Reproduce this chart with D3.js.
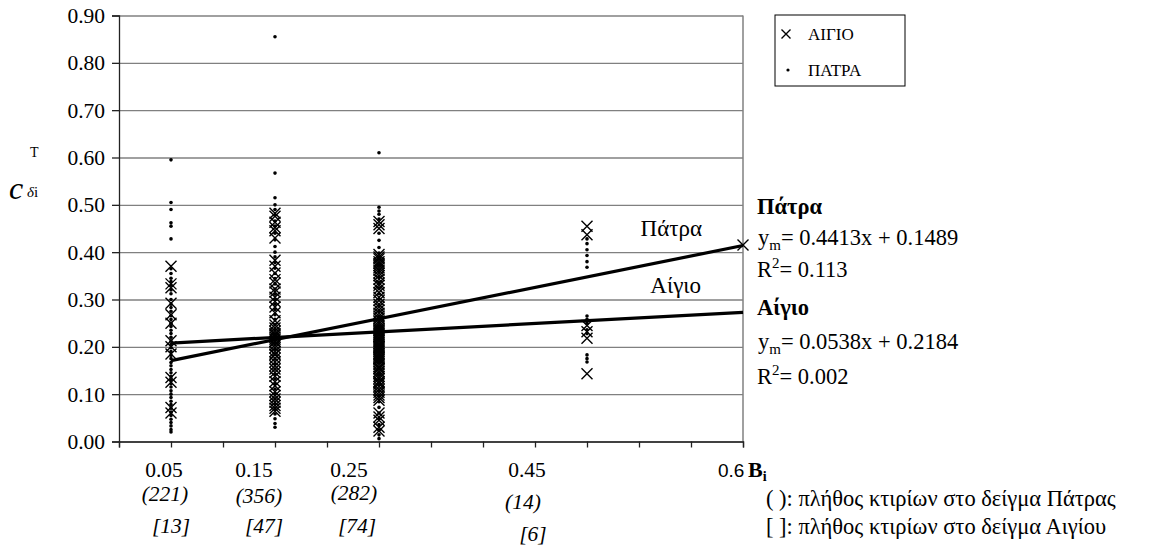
<!DOCTYPE html>
<html>
<head>
<meta charset="utf-8">
<script src="https://d3js.org/d3.v7.min.js"></script>
<style>
  body { margin: 0; background: #fff; }
  svg { display: block; }
  text { font-family: "Liberation Serif", "Times New Roman", serif; fill: #000; }
</style>
</head>
<body>
<div id="chart"></div>
<script>
// ── data ─────────────────────────────────────────────────────────
const bins = [0.05, 0.15, 0.25, 0.45];
const binLabels = ["0.05", "0.15", "0.25", "0.45"];
const patraCounts = ["(221)", "(356)", "(282)", "(14)"];
const aigioCounts = ["[13]", "[47]", "[74]", "[6]"];
const yTicks = [0, 0.1, 0.2, 0.3, 0.4, 0.5, 0.6, 0.7, 0.8, 0.9];
const xTicks = [0, 0.05, 0.1, 0.15, 0.2, 0.25, 0.3, 0.35, 0.4, 0.45, 0.5, 0.55, 0.6];

// Αίγιο (×) values per bin
const aigio005 = [0.37, 0.333, 0.325, 0.292, 0.268, 0.25, 0.213, 0.2, 0.185, 0.135, 0.125, 0.072, 0.06];
const aigio015 = [0.482, 0.476, 0.463, 0.452, 0.445, 0.43, 0.383, 0.37, 0.356, 0.342, 0.335, 0.322,
  0.316, 0.305, 0.296, 0.284, 0.272, 0.255, 0.246, 0.24, 0.233, 0.228, 0.221, 0.216, 0.21, 0.204,
  0.198, 0.19, 0.183, 0.176, 0.168, 0.16, 0.153, 0.146, 0.138, 0.126, 0.118, 0.105, 0.097, 0.09,
  0.083, 0.076, 0.07, 0.064, 0.225, 0.185, 0.212];
const aigio025 = [0.465, 0.458, 0.45, 0.395, 0.39, 0.386, 0.38, 0.376, 0.372, 0.367, 0.362, 0.356,
  0.35, 0.343, 0.335, 0.33, 0.322, 0.315, 0.305, 0.298, 0.29, 0.284, 0.278, 0.271, 0.265, 0.26,
  0.254, 0.249, 0.244, 0.24, 0.236, 0.231, 0.227, 0.222, 0.218, 0.214, 0.21, 0.206, 0.202, 0.198,
  0.194, 0.19, 0.186, 0.181, 0.177, 0.172, 0.168, 0.163, 0.158, 0.153, 0.148, 0.143, 0.138, 0.133,
  0.127, 0.122, 0.116, 0.11, 0.104, 0.098, 0.093, 0.087, 0.06, 0.052, 0.045, 0.03, 0.022, 0.235,
  0.225, 0.2, 0.185, 0.175, 0.155, 0.125];
const aigio045 = [0.455, 0.437, 0.245, 0.232, 0.218, 0.143];
const aigioEnd = [0.6, 0.415];   // lone × at the end of the Πάτρα line

// Πάτρα (·) values per bin
const patra005 = [0.595, 0.505, 0.49, 0.462, 0.455, 0.428, 0.365, 0.355, 0.345, 0.338, 0.33, 0.32,
  0.312, 0.3, 0.29, 0.283, 0.275, 0.266, 0.258, 0.25, 0.243, 0.235, 0.228, 0.22, 0.212, 0.205,
  0.198, 0.19, 0.182, 0.175, 0.167, 0.16, 0.152, 0.145, 0.137, 0.13, 0.122, 0.115, 0.107, 0.1,
  0.093, 0.085, 0.078, 0.07, 0.062, 0.055, 0.047, 0.04, 0.033, 0.025, 0.02];
const patra015 = [0.855, 0.567, 0.515, 0.5, 0.49, 0.478, 0.466, 0.455, 0.44, 0.426, 0.412, 0.4,
  0.39, 0.378, 0.366, 0.355, 0.344, 0.333, 0.322, 0.311, 0.3, 0.29, 0.279, 0.268, 0.258, 0.247,
  0.237, 0.226, 0.216, 0.205, 0.195, 0.184, 0.174, 0.163, 0.153, 0.142, 0.132, 0.121, 0.111, 0.1,
  0.09, 0.079, 0.069, 0.058, 0.048, 0.038, 0.03];
const patra025 = [0.61, 0.495, 0.487, 0.48, 0.47, 0.44, 0.425, 0.41, 0.398, 0.385, 0.373, 0.36,
  0.348, 0.336, 0.324, 0.312, 0.3, 0.288, 0.276, 0.264, 0.252, 0.24, 0.228, 0.216, 0.204, 0.192,
  0.18, 0.168, 0.156, 0.144, 0.132, 0.12, 0.108, 0.096, 0.084, 0.072, 0.06, 0.048, 0.036, 0.024,
  0.014, 0.006];
const patra045 = [0.428, 0.418, 0.405, 0.393, 0.38, 0.368, 0.265, 0.258, 0.25, 0.236, 0.228, 0.183,
  0.175, 0.168];

// fitted lines, end points as drawn
const patraLine = [[0.05, 0.171], [0.6, 0.414]];
const aigioLine = [[0.05, 0.208], [0.6, 0.273]];

// ── chart ────────────────────────────────────────────────────────
const W = 1152, H = 549;
const svg = d3.select("#chart").append("svg").attr("width", W).attr("height", H);

const x = d3.scaleLinear().domain([0, 0.6]).range([119, 743]);
const y = d3.scaleLinear().domain([0, 0.9]).range([441.5, 15.5]);

// gridlines
svg.append("g").attr("transform", `translate(${x(0)},0)`)
  .call(d3.axisLeft(y).tickValues(yTicks).tickSize(-(x(0.6) - x(0))).tickFormat(""))
  .call(g => g.select(".domain").remove())
  .selectAll("line").attr("stroke", "#808080").attr("stroke-width", 1.3);

// right border
svg.append("line").attr("x1", x(0.6)).attr("x2", x(0.6)).attr("y1", y(0.9)).attr("y2", y(0))
  .attr("stroke", "#808080").attr("stroke-width", 1.5);

// y axis
const yAx = svg.append("g").attr("transform", `translate(${x(0)},0)`)
  .call(d3.axisLeft(y).tickValues(yTicks).tickSize(7).tickPadding(7).tickFormat(d3.format(".2f")));
yAx.selectAll("line, path").attr("stroke", "#222").attr("stroke-width", 1.3);
yAx.selectAll("text").style("font-family", "Liberation Serif").style("font-size", "21.5px");

// x axis
const xAx = svg.append("g").attr("transform", `translate(0,${y(0)})`)
  .call(d3.axisBottom(x).tickValues(xTicks).tickSize(6).tickFormat(""));
xAx.selectAll("line, path").attr("stroke", "#222").attr("stroke-width", 1.3);

// points
const patraPts = [];
[patra005, patra015, patra025, patra045].forEach((arr, i) => arr.forEach(v => patraPts.push([bins[i], v])));
const aigioPts = [];
[aigio005, aigio015, aigio025, aigio045].forEach((arr, i) => arr.forEach(v => aigioPts.push([bins[i], v])));
aigioPts.push(aigioEnd);

const xMark = "M-5.5,-5.5L5.5,5.5M-5.5,5.5L5.5,-5.5";

svg.append("g").selectAll("path").data(aigioPts).join("path")
  .attr("transform", d => `translate(${x(d[0])},${y(d[1])})`)
  .attr("d", xMark).attr("stroke", "#000").attr("stroke-width", 1.4).attr("fill", "none");

svg.append("g").selectAll("circle").data(patraPts).join("circle")
  .attr("cx", d => x(d[0])).attr("cy", d => y(d[1])).attr("r", 1.8).attr("fill", "#000");

// fitted lines
const line = d3.line().x(d => x(d[0])).y(d => y(d[1]));
[patraLine, aigioLine].forEach(l => {
  svg.append("path").datum(l).attr("d", line)
    .attr("stroke", "#000").attr("stroke-width", 3.2).attr("fill", "none");
});

// in-plot line names
svg.append("text").attr("x", x(0.6) - 41).attr("y", y(0.435))
  .attr("text-anchor", "end").style("font-size", "23px").text("Πάτρα");
svg.append("text").attr("x", x(0.6) - 42).attr("y", y(0.313))
  .attr("text-anchor", "end").style("font-size", "23px").text("Αίγιο");

// y axis title  c^T_δi
const yt = svg.append("g");
yt.append("text").attr("x", 9).attr("y", 199).style("font-size", "32px").style("font-style", "italic").text("c");
yt.append("text").attr("x", 30).attr("y", 157).style("font-size", "14px").text("T");
const sub = yt.append("text").attr("x", 27).attr("y", 197).style("font-size", "15px");
sub.append("tspan").style("font-style", "italic").text("δ");
sub.append("tspan").text("i");

// legend
const lg = svg.append("g").attr("transform", "translate(775,15)");
lg.append("rect").attr("width", 130).attr("height", 71).attr("fill", "#fff")
  .attr("stroke", "#000").attr("stroke-width", 1);
lg.append("path").attr("transform", "translate(11,19)").attr("d", "M-4.5,-4.5L4.5,4.5M-4.5,4.5L4.5,-4.5")
  .attr("stroke", "#000").attr("stroke-width", 1.4);
lg.append("text").attr("x", 33).attr("y", 25).style("font-size", "17px").text("ΑΙΓΙΟ");
lg.append("circle").attr("cx", 13).attr("cy", 55).attr("r", 1.6).attr("fill", "#000");
lg.append("text").attr("x", 33).attr("y", 61).style("font-size", "17px").text("ΠΑΤΡΑ");

// equations at right
function eqBlock(top, name, eq, r2, gap1, gap2) {
  const g = svg.append("g").attr("transform", `translate(757,${top})`).style("font-size", "22.5px");
  g.append("text").attr("y", 0).style("font-weight", "bold").text(name);
  const t1 = g.append("text").attr("x", 1).attr("y", gap1);
  t1.append("tspan").text("y");
  t1.append("tspan").attr("dy", 5).style("font-size", "15px").text("m");
  t1.append("tspan").attr("dy", -5).text(eq);
  const t2 = g.append("text").attr("y", gap1 + gap2);
  t2.append("tspan").text("R");
  t2.append("tspan").attr("dy", -9).style("font-size", "15px").text("2");
  t2.append("tspan").attr("dy", 9).text(r2);
}
eqBlock(214, "Πάτρα", "= 0.4413x + 0.1489", "= 0.113", 31, 32);
eqBlock(315, "Αίγιο", "= 0.0538x + 0.2184", "= 0.002", 34, 35);

// bin labels under the axis
const nudge = [-7, -21, -30, -60];
const g2 = svg.append("g").style("font-size", "21.5px").attr("text-anchor", "middle");
bins.forEach((b, i) => {
  g2.append("text").attr("x", x(b) + nudge[i]).attr("y", 477).text(binLabels[i]);
});
const pNudge = [-6, -16, -25, -64];
const pDrop = [0, 2, -1, 8];
bins.forEach((b, i) => {
  g2.append("text").attr("x", x(b) + pNudge[i]).attr("y", 501 + pDrop[i])
    .style("font-style", "italic").text(patraCounts[i]);
});
const aNudge = [0, -11, -22, -54];
const aDrop = [0, 0, 0, 8];
bins.forEach((b, i) => {
  g2.append("text").attr("x", x(b) + aNudge[i]).attr("y", 533 + aDrop[i])
    .style("font-style", "italic").text(aigioCounts[i]);
});

// axis end label and notes
svg.append("text").attr("x", x(0.6) - 25).attr("y", 477)
  .style("font-family", "Liberation Sans").style("font-size", "19px").text("0.6");
const bi = svg.append("text").attr("x", x(0.6) + 5).attr("y", 477).style("font-size", "22px").style("font-weight", "bold");
bi.append("tspan").text("B");
bi.append("tspan").attr("dy", 4).style("font-size", "14px").text("i");

svg.append("text").attr("x", 766).attr("y", 506).style("font-size", "22.5px")
  .text("( ):  πλήθος κτιρίων στο δείγμα Πάτρας");
svg.append("text").attr("x", 766).attr("y", 534).style("font-size", "22.5px")
  .text("[ ]:  πλήθος κτιρίων στο δείγμα Αιγίου");
</script>
</body>
</html>
